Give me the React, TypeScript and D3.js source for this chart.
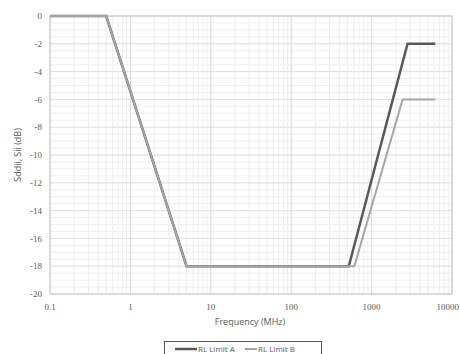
import React from "react";
import * as d3 from "d3";

// RL limit curves: [frequency MHz, dB]
const limitA: [number, number][] = [
  [0.1, 0],
  [0.5, 0],
  [5, -18],
  [520, -18],
  [2800, -2],
  [6200, -2],
];
const limitB: [number, number][] = [
  [0.1, 0],
  [0.5, 0],
  [5, -18],
  [610, -18],
  [2430, -6],
  [6200, -6],
];
const xTicks = [0.1, 1, 10, 100, 1000, 10000];
const yTicks = [0, -2, -4, -6, -8, -10, -12, -14, -16, -18, -20];

const W = 460;
const H = 354;
const margin = { top: 16, right: 8, bottom: 60, left: 50 };

const App = () => {
  const x = d3
    .scaleLog()
    .domain([0.1, 10000])
    .range([margin.left, W - margin.right]);
  const y = d3
    .scaleLinear()
    .domain([-20, 0])
    .range([H - margin.bottom, margin.top]);

  const line = d3
    .line<[number, number]>()
    .x((d) => x(d[0]))
    .y((d) => y(d[1]));

  // minor vertical lines at 2..9 of each decade
  const minorX: number[] = [];
  for (let dec = 0.1; dec < 10000; dec *= 10) {
    for (let k = 2; k <= 9; k++) minorX.push(+(dec * k).toPrecision(3));
  }
  const minorY = d3.range(-20, 0.01, 0.5);

  const fontTick = "'Liberation Serif', serif";
  const fontSans = "'Open Sans', 'Liberation Sans', sans-serif";

  return (
    <svg
      width={W}
      height={H}
      style={{ position: "absolute", left: 0, top: 0, background: "#fff" }}
    >
      <g>
        {minorY.map((v) => (
          <line
            key={"my" + v}
            x1={x(0.1)}
            x2={x(10000)}
            y1={y(v)}
            y2={y(v)}
            stroke="#f0f0f0"
            strokeWidth={1}
          />
        ))}
        {minorX.map((v) => (
          <line
            key={"mx" + v}
            x1={x(v)}
            x2={x(v)}
            y1={y(0)}
            y2={y(-20)}
            stroke="#eeeeee"
            strokeWidth={1}
          />
        ))}
        {yTicks.map((v) => (
          <line
            key={"gy" + v}
            x1={x(0.1)}
            x2={x(10000)}
            y1={y(v)}
            y2={y(v)}
            stroke="#e2e2e2"
            strokeWidth={1}
          />
        ))}
        {xTicks.map((v) => (
          <line
            key={"gx" + v}
            x1={x(v)}
            x2={x(v)}
            y1={y(0)}
            y2={y(-20)}
            stroke="#d9d9d9"
            strokeWidth={1}
          />
        ))}
        <rect
          x={x(0.1)}
          y={y(0)}
          width={x(10000) - x(0.1)}
          height={y(-20) - y(0)}
          fill="none"
          stroke="#c8c8c8"
          strokeWidth={1}
        />
      </g>

      <path d={line(limitA) ?? ""} fill="none" stroke="#595959" strokeWidth={2.5} />
      <path d={line(limitB) ?? ""} fill="none" stroke="#a6a6a6" strokeWidth={2} />

      {yTicks.map((v) => (
        <text
          key={"ty" + v}
          x={x(0.1) - 8}
          y={y(v)}
          dy="0.35em"
          textAnchor="end"
          fontSize={9}
          fontFamily={fontTick}
          fill="#595959"
        >
          {v}
        </text>
      ))}
      {xTicks.map((v, i) => {
        const last = i === xTicks.length - 1;
        return (
          <text
            key={"tx" + v}
            x={last ? W - 1 : x(v)}
            y={y(-20) + 16}
            textAnchor={last ? "end" : "middle"}
            fontSize={9}
            fontFamily={fontTick}
            fill="#595959"
          >
            {v}
          </text>
        );
      })}

      <text
        x={250}
        y={325}
        textAnchor="middle"
        fontSize={9}
        fontFamily={fontSans}
        fill="#595959"
      >
        Frequency (MHz)
      </text>
      <text
        transform={`translate(21, ${(y(0) + y(-20)) / 2}) rotate(-90)`}
        textAnchor="middle"
        fontSize={9}
        fontFamily={fontSans}
        fill="#595959"
      >
        Sddii, Sii (dB)
      </text>

      <g>
        <rect x={164.5} y={341.5} width={157} height={20} fill="#fff" stroke="#595959" strokeWidth={1} />
        <line x1={175} x2={197} y1={349} y2={349} stroke="#595959" strokeWidth={2.5} />
        <text x={198} y={349} dy="0.35em" fontSize={8} fontFamily={fontSans} fill="#595959">
          RL Limit A
        </text>
        <line x1={245} x2={257} y1={349} y2={349} stroke="#a6a6a6" strokeWidth={2} />
        <text x={258} y={349} dy="0.35em" fontSize={8} fontFamily={fontSans} fill="#595959">
          RL Limit B
        </text>
      </g>
    </svg>
  );
};

export default App;
